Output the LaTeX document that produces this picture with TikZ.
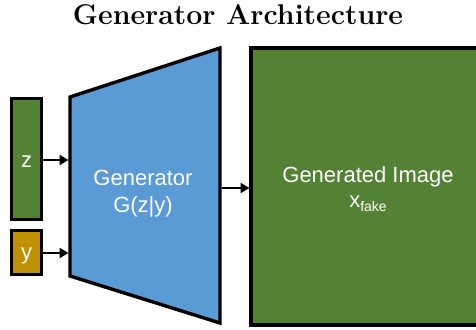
\documentclass[tikz,border=0pt]{standalone}
\usepackage{fontspec}
\newfontfamily\arial{Liberation Sans}
\usetikzlibrary{arrows.meta}
\definecolor{ggreen}{HTML}{548235}
\definecolor{gblue}{HTML}{5B9BD5}
\definecolor{ggold}{HTML}{BF9000}
\tikzset{
  blockline/.style={draw=black, line width=3.4pt},
  lbl/.style={text=white, font=\arial\fontsize{22}{26}\selectfont, anchor=base, inner sep=0pt},
  conn/.style={line width=2pt, -{Triangle[length=9pt,width=10pt]}}
}
\begin{document}
\begin{tikzpicture}[x=1pt,y=-1pt]
\useasboundingbox (0,0) rectangle (476,329);
\clip (0,0) rectangle (476,329);
% title
\node[font=\fontsize{28.5}{32}\selectfont\bfseries, anchor=base, inner sep=0pt] (title) at (238,25) {Generator Architecture};
% inputs
\node[blockline, fill=ggreen, minimum width=30pt, minimum height=121pt, inner sep=0pt] (zbox) at (26.5,159) {};
\node[lbl] (zlbl) at (26.5,167) {z};
\node[blockline, fill=ggold, minimum width=30pt, minimum height=44pt, inner sep=0pt] (ybox) at (26.5,252.5) {};
\node[lbl] (ylbl) at (26.5,259) {y};
% generator trapezoid
\coordinate (gtl) at (70,97);
\coordinate (gtr) at (220,48);
\coordinate (gbr) at (220,323);
\coordinate (gbl) at (70,276);
\draw[blockline, fill=gblue, line join=miter] (gtl) -- (gtr) -- (gbr) -- (gbl) -- cycle;
\node[lbl] (gen1) at (143,185) {Generator};
\node[lbl] (gen2) at (143,212) {G(z|y)};
% generated image
\draw[blockline, fill=ggreen] (251,48) rectangle (490,325);
\coordinate (imgin) at (249.5,188);
\node[lbl] (img1) at (368,182) {Generated Image};
\node[lbl] (img2) at (368,207) {x\raisebox{-4pt}{\fontsize{14}{16}\selectfont fake}};
% connectors
\coordinate (genz) at (68.5,160);
\coordinate (geny) at (68.5,253);
\coordinate (genout) at (221.5,188);
\draw[conn] (zbox.east |- genz) -- (genz);
\draw[conn] (ybox.east |- geny) -- (geny);
\draw[conn] (genout) -- (imgin);
\end{tikzpicture}
\end{document}
